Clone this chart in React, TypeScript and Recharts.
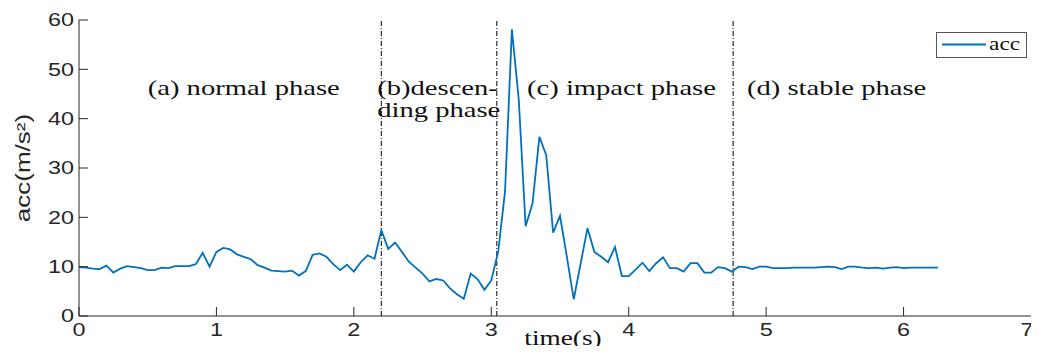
import React from "react";
import {
  LineChart,
  Line,
  XAxis,
  YAxis,
  ReferenceLine,
  ReferenceDot,
  Legend,
} from "recharts";

// sample times (s), 20 Hz
const times = [
  0, 0.05, 0.1, 0.15, 0.2, 0.25, 0.3, 0.35, 0.4, 0.45,
  0.5, 0.55, 0.6, 0.65, 0.7, 0.75, 0.8, 0.85, 0.9, 0.95,
  1.0, 1.05, 1.1, 1.15, 1.2, 1.25, 1.3, 1.35, 1.4, 1.45,
  1.5, 1.55, 1.6, 1.65, 1.7, 1.75, 1.8, 1.85, 1.9, 1.95,
  2.0, 2.05, 2.1, 2.15, 2.2, 2.25, 2.3, 2.35, 2.4, 2.45,
  2.5, 2.55, 2.6, 2.65, 2.7, 2.75, 2.8, 2.85, 2.9, 2.95,
  3.0, 3.05, 3.1, 3.15, 3.2, 3.25, 3.3, 3.35, 3.4, 3.45,
  3.5, 3.55, 3.6, 3.65, 3.7, 3.75, 3.8, 3.85, 3.9, 3.95,
  4.0, 4.05, 4.1, 4.15, 4.2, 4.25, 4.3, 4.35, 4.4, 4.45,
  4.5, 4.55, 4.6, 4.65, 4.7, 4.75, 4.8, 4.85, 4.9, 4.95,
  5.0, 5.05, 5.1, 5.15, 5.2, 5.25, 5.3, 5.35, 5.4, 5.45,
  5.5, 5.55, 5.6, 5.65, 5.7, 5.75, 5.8, 5.85, 5.9, 5.95,
  6.0, 6.05, 6.1, 6.15, 6.2, 6.25,
];

// acceleration magnitude (m/s^2)
const acc = [
  9.9, 9.8, 9.6, 9.5, 10.2, 8.8, 9.6, 10.1, 9.9, 9.7,
  9.3, 9.3, 9.8, 9.7, 10.1, 10.1, 10.1, 10.5, 12.8, 10.0,
  13.0, 13.8, 13.5, 12.5, 12.0, 11.5, 10.3, 9.8, 9.2, 9.1,
  9.0, 9.2, 8.2, 9.1, 12.4, 12.7, 12.0, 10.5, 9.3, 10.4,
  9.0, 10.9, 12.3, 11.6, 17.4, 13.6, 14.9, 13.0, 11.0, 9.8,
  8.6, 7.0, 7.5, 7.2, 5.6, 4.4, 3.5, 8.6, 7.5, 5.3,
  7.2, 13.0, 25.2, 58.1, 43.8, 18.2, 22.8, 36.3, 32.6, 16.9,
  20.3, 12.0, 3.4, 10.6, 17.8, 13.0, 12.0, 10.9, 14.0, 8.1,
  8.1, 9.4, 10.8, 9.1, 10.7, 11.9, 9.7, 9.7, 9.0, 10.7,
  10.7, 8.8, 8.8, 9.9, 9.7, 9.0, 10.0, 9.9, 9.5, 10.0,
  10.0, 9.7, 9.7, 9.7, 9.8, 9.8, 9.8, 9.8, 9.9, 10.0,
  9.9, 9.5, 10.0, 10.0, 9.8, 9.7, 9.8, 9.6, 9.8, 9.9,
  9.7, 9.8, 9.8, 9.8, 9.8, 9.8,
];

const xTicks = [0, 1, 2, 3, 4, 5, 6, 7];
const yTicks = [0, 10, 20, 30, 40, 50, 60];

// phase boundaries (s)
const phaseBounds = [2.2, 3.04, 4.76];

// phase annotations: start time, acc level of baseline, text
const phaseNotes = [
  { t: 0.5, v: 44.8, text: "(a) normal phase" },
  { t: 2.17, v: 44.8, text: "(b)descen-" },
  { t: 2.17, v: 40.3, text: "ding phase" },
  { t: 3.26, v: 44.8, text: "(c) impact phase" },
  { t: 4.86, v: 44.8, text: "(d) stable phase" },
];

const data = times.map((t, i) => ({ t, acc: acc[i] }));

const AXIS = "#262626";
const SANS = "'Liberation Sans', Arial, sans-serif";
const SERIF = "'Liberation Serif', 'Times New Roman', serif";
const STRETCH = 1.3;

const XTick = (props: any) => {
  const { x, y, payload } = props;
  // keep the last label inside the picture, as in the source figure
  const tx = Math.min(x, 1027);
  return (
    <text
      transform={`translate(${tx},${y}) scale(1.3,1)`}
      textAnchor="middle"
      dy="0.71em"
      fontFamily={SANS}
      fontSize={18}
      fill={AXIS}
    >
      {payload.value}
    </text>
  );
};

const YTick = (props: any) => {
  const { x, y, payload } = props;
  return (
    <text
      transform={`translate(${x},${y}) scale(1.3,1)`}
      textAnchor="end"
      dy="0.355em"
      fontFamily={SANS}
      fontSize={18}
      fill={AXIS}
    >
      {payload.value}
    </text>
  );
};

const PhaseLabel = (props: any) => {
  const { viewBox, text } = props;
  if (!viewBox) return null;
  return (
    <text
      transform={`translate(${viewBox.x},${viewBox.y}) scale(${STRETCH},1)`}
      fontFamily={SERIF}
      fontSize={22}
      fill="#111"
    >
      {text}
    </text>
  );
};

const XLabel = (props: any) => {
  const { viewBox } = props;
  return (
    <text
      transform={`translate(${viewBox.x + viewBox.width / 2 + 3},${viewBox.y + 29}) scale(${STRETCH},1)`}
      textAnchor="middle"
      fontFamily={SERIF}
      fontSize={21}
      fill="#111"
    >
      time(s)
    </text>
  );
};

const YLabel = (props: any) => {
  const { viewBox } = props;
  return (
    <text
      transform={`translate(30,${viewBox.y + viewBox.height / 2}) rotate(-90) scale(1.3,1)`}
      textAnchor="middle"
      fontFamily={SANS}
      fontSize={20}
      fill={AXIS}
    >
      acc(m/s²)
    </text>
  );
};

const renderLegend = (props: any) => {
  const name = props.payload && props.payload[0] ? props.payload[0].value : "acc";
  return (
    <div
      style={{
        width: 89,
        height: 24,
        border: "1px solid #555",
        background: "#fff",
        position: "relative",
      }}
    >
      <svg width={50} height={24} style={{ position: "absolute", left: 0, top: 0 }}>
        <line x1={5} x2={49} y1={11.5} y2={11.5} stroke="#0072BD" strokeWidth={1.8} />
      </svg>
      <span
        style={{
          position: "absolute",
          left: 52,
          top: 0,
          lineHeight: "22px",
          fontFamily: SERIF,
          fontSize: 18,
          color: "#111",
          transform: `scaleX(${STRETCH})`,
          transformOrigin: "left center",
        }}
      >
        {name}
      </span>
    </div>
  );
};

export default function App() {
  return (
    <div
      style={{
        margin: -8,
        width: 1039,
        height: 354,
        overflow: "hidden",
        background: "#fff",
      }}
    >
      <LineChart
        width={1045}
        height={354}
        data={data}
        margin={{ top: 20, right: 4, bottom: 8, left: 0 }}
      >
        <XAxis
          dataKey="t"
          type="number"
          domain={[0, 7]}
          ticks={xTicks}
          height={30}
          stroke={AXIS}
          tickSize={-9}
          tickMargin={16}
          tick={<XTick />}
          label={<XLabel />}
        />
        <XAxis
          xAxisId="top"
          orientation="top"
          type="number"
          domain={[0, 7]}
          ticks={xTicks}
          height={0}
          stroke={AXIS}
          tickSize={-9}
          tick={() => <g />}
        />
        <YAxis
          type="number"
          domain={[0, 60]}
          ticks={yTicks}
          width={79}
          stroke={AXIS}
          tickSize={-9}
          tickMargin={14}
          tick={<YTick />}
          label={<YLabel />}
        />
        {phaseBounds.map((b) => (
          <ReferenceLine
            key={b}
            x={b}
            stroke="#1a1a1a"
            strokeWidth={1.1}
            strokeDasharray="5 2 1 2"
          />
        ))}
        {phaseNotes.map((p) => (
          <ReferenceDot
            key={p.text}
            x={p.t}
            y={p.v}
            r={0}
            fill="none"
            stroke="none"
            label={<PhaseLabel text={p.text} />}
          />
        ))}
        <Line
          type="linear"
          dataKey="acc"
          name="acc"
          stroke="#0072BD"
          strokeWidth={1.8}
          dot={false}
          isAnimationActive={false}
        />
        <Legend
          layout="horizontal"
          verticalAlign="middle"
          align="center"
          content={renderLegend}
          wrapperStyle={{ left: 936, top: 32, width: 91, height: 26 }}
        />
      </LineChart>
    </div>
  );
}
